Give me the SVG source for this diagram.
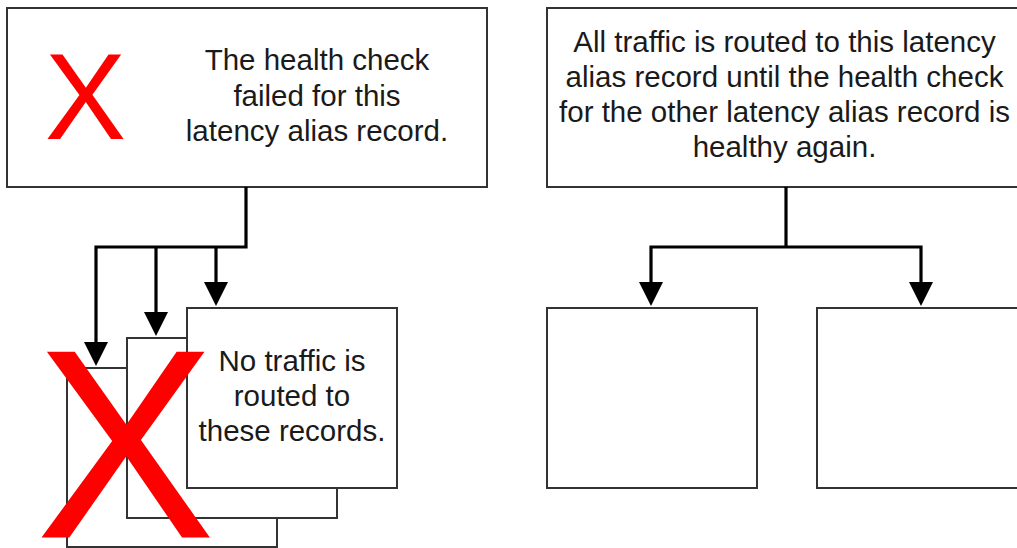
<svg xmlns="http://www.w3.org/2000/svg" width="1017" height="548" viewBox="0 0 1017 548">
  <style>
    .box { fill: #ffffff; stroke: #333333; stroke-width: 2; }
    .txt { font-family: "Liberation Sans", Arial, sans-serif; font-size: 29.5px; fill: #1a1a1a; text-anchor: middle; }
    .redx { font-family: "Liberation Sans", Arial, sans-serif; fill: #ff0000; text-anchor: middle; }
    .conn { fill: none; stroke: #000000; stroke-width: 3.2; }
  </style>
  <defs>
    <marker id="arrow" viewBox="0 0 24 24" refX="4" refY="12" markerWidth="24" markerHeight="24" markerUnits="userSpaceOnUse" orient="auto">
      <path d="M0,0 L24,12 L0,24 z" fill="#000000"/>
    </marker>
  </defs>
  <rect width="1017" height="548" fill="#ffffff"/>

  <g id="failed-record">
    <rect class="box" x="7" y="8" width="480" height="179"/>
    <text class="redx" x="85.5" y="139" font-size="122">X</text>
    <text class="txt" x="317" y="70">The health check</text>
    <text class="txt" x="317" y="105.5">failed for this</text>
    <text class="txt" x="317" y="141">latency alias record.</text>
  </g>

  <g id="healthy-record">
    <rect class="box" x="547" y="8" width="480" height="179"/>
    <text class="txt" x="784.5" y="52">All traffic is routed to this latency</text>
    <text class="txt" x="784.5" y="87">alias record until the health check</text>
    <text class="txt" x="784.5" y="122">for the other latency alias record is</text>
    <text class="txt" x="784.5" y="157">healthy again.</text>
  </g>

  <g id="connectors">
    <path class="conn" d="M246,187 V247 H96 V346" marker-end="url(#arrow)"/>
    <path class="conn" d="M156,247 V316" marker-end="url(#arrow)"/>
    <path class="conn" d="M216,247 V286" marker-end="url(#arrow)"/>
    <path class="conn" d="M786,187 V247"/>
    <path class="conn" d="M786,247 H651 V286" marker-end="url(#arrow)"/>
    <path class="conn" d="M786,247 H921 V286" marker-end="url(#arrow)"/>
  </g>

  <g id="record-back">
    <rect class="box" x="67" y="368" width="210" height="179"/>
  </g>
  <g id="record-middle">
    <rect class="box" x="127" y="338" width="210" height="180"/>
  </g>
  <g id="record-front">
    <rect class="box" x="187" y="308" width="210" height="180"/>
    <text class="txt" x="292" y="371">No traffic is</text>
    <text class="txt" x="292" y="405.5">routed to</text>
    <text class="txt" x="292" y="441">these records.</text>
  </g>

  <g id="unrouted-x">
    <text class="redx" x="125.5" y="537.5" font-size="270">X</text>
  </g>

  <g id="record-left">
    <rect class="box" x="547" y="308" width="210" height="180"/>
  </g>
  <g id="record-right">
    <rect class="box" x="817" y="308" width="210" height="180"/>
  </g>
</svg>
